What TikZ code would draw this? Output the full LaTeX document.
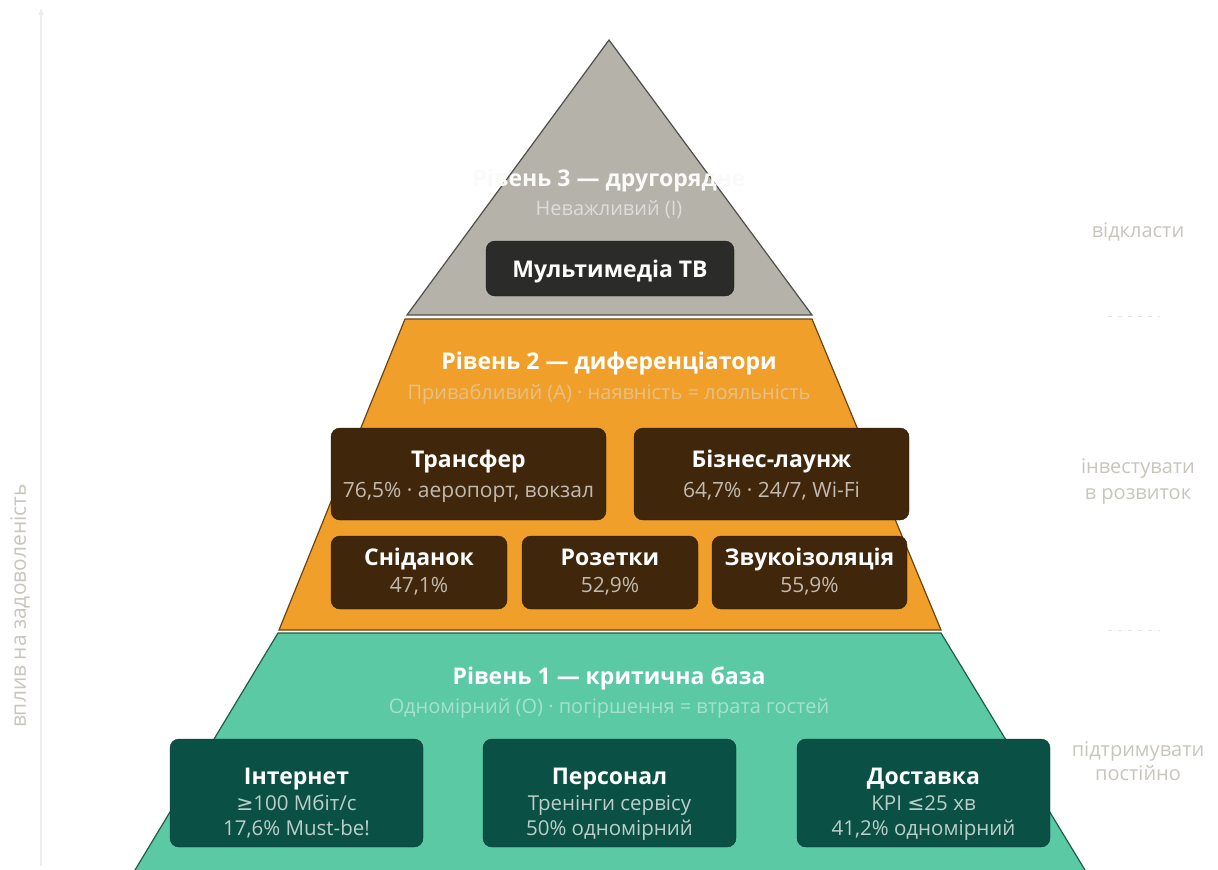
\documentclass[tikz,border=0pt]{standalone}
\usepackage{fontspec}
\setmainfont{Open Sans}
\newfontfamily\symf{DejaVu Sans}
\usetikzlibrary{arrows,positioning}
\definecolor{greyfill}{HTML}{B5B2AA}
\definecolor{greyline}{HTML}{4F4E4A}
\definecolor{orangefill}{HTML}{F0A02A}
\definecolor{orangeline}{HTML}{6B4412}
\definecolor{greenfill}{HTML}{5CC9A5}
\definecolor{greenline}{HTML}{1E5C4B}
\definecolor{brownbox}{HTML}{40260A}
\definecolor{tealbox}{HTML}{0B5044}
\definecolor{darkbox}{HTML}{2B2B2A}
\definecolor{sidegrey}{HTML}{C8C5BD}
\newcommand{\headf}{\fontsize{23}{27}\selectfont\bfseries}
\newcommand{\subf}{\fontsize{20}{24}\selectfont}
\newcommand{\boxf}{\fontsize{23}{27}\selectfont\bfseries}
\newcommand{\smallf}{\fontsize{21}{25}\selectfont}
\newcommand{\basef}{\fontsize{20.5}{24}\selectfont}
\tikzset{
    %Define standard arrow tip
    >=stealth',
    %Define style for feature boxes
    featbox/.style={
           rectangle,
           rounded corners=9pt,
           inner sep=0pt,
           },
    toprect/.style={featbox, fill=darkbox, draw=darkbox!70!black},
    midrect/.style={featbox, fill=brownbox, draw=brownbox!70!black},
    baserect/.style={featbox, fill=tealbox, draw=tealbox!70!black},
    % Define text styles
    heading/.style={font=\headf, text=white, text height=16.5pt, text depth=0pt},
    subhead/.style={font=\subf, text height=14.5pt, text depth=0pt},
    boxtitle/.style={font=\boxf, text=white, text height=16.5pt, text depth=0pt},
    midline/.style={font=\smallf, text=white!68!brownbox, text height=15pt, text depth=0pt},
    baseline/.style={font=\basef, text=white!72!tealbox, text height=14.8pt, text depth=0pt},
    sidenote/.style={font=\subf, text=sidegrey, align=center},
}

\begin{document}
\begin{tikzpicture}[x=1pt,y=-1pt]
\useasboundingbox (0,0) rectangle (1218,870);

 %axis
\coordinate (axbot) at (41,866);
\coordinate (axtop) at (41,9);
\draw[->, black!7, line width=1.2pt] (axbot) -- (axtop);
\node[rotate=90, font=\fontsize{21}{25}\selectfont, text=sidegrey] (axlabel) at (20,606) {вплив на задоволеність};

 %tiers
\fill[greenfill] (135,870) -- (278,633) -- (941,633) -- (1085,870) -- cycle;
\draw[greenline, line width=1.2pt] (135,870) -- (278,633) -- (941,633) -- (1085,870);
\filldraw[fill=orangefill, draw=orangeline, line width=1.2pt]
    (405,319) -- (812,319) -- (941,630) -- (279,630) -- cycle;
\filldraw[fill=greyfill, draw=greyline, line width=1.2pt]
    (609,40) -- (812,315) -- (407,315) -- cycle;

 %tier 3
\node[heading, text=white!93!greyfill] (t3) at (609,178) {Рівень 3 — другорядне};
\node[subhead, text=white!55!greyfill] (t3s) at (609,208) {Неважливий (I)};
\node[toprect, minimum width=248pt, minimum height=55pt] (tv) at (610,268.5) {};
\node[boxtitle] (tvt) at (610,269) {Мультимедіа ТВ};

 %tier 2
\node[heading] (t2) at (609,361) {Рівень 2 — диференціатори};
\node[subhead, text=white!45!orangefill!85!gray] (t2s) at (609,392) {Привабливий (А) · наявність = лояльність};
\node[midrect, minimum width=275pt, minimum height=92pt] (transfer) at (468.5,474) {};
\node[midrect, minimum width=275pt, minimum height=92pt] (lounge) at (771.5,474) {};
\node[midrect, minimum width=176pt, minimum height=73pt] (breakfast) at (419,572.5) {};
\node[midrect, minimum width=176pt, minimum height=73pt] (sockets) at (610,572.5) {};
\node[midrect, minimum width=195pt, minimum height=73pt] (soundproof) at (809.5,572.5) {};
\node[boxtitle] (transfert) at (468.5,459) {Трансфер};
\node[midline] (transfers) at (468.5,490) {76,5\% · аеропорт, вокзал};
\node[boxtitle] (loungt) at (771.5,459) {Бізнес-лаунж};
\node[midline] (lounges) at (771.5,490) {64,7\% · 24/7, Wi-Fi};
\node[boxtitle] (breakfastt) at (419,557) {Сніданок};
\node[midline] (breakfasts) at (419,585) {47,1\%};
\node[boxtitle] (socketst) at (610,557) {Розетки};
\node[midline] (socketss) at (610,585) {52,9\%};
\node[boxtitle] (soundprooft) at (809.5,557) {Звукоізоляція};
\node[midline] (soundproofs) at (809.5,585) {55,9\%};

 %tier 1
\node[heading] (t1) at (609,676) {Рівень 1 — критична база};
\node[subhead, text=white!45!greenfill] (t1s) at (609,706) {Одномірний (О) · погіршення = втрата гостей};
\node[baserect, minimum width=253pt, minimum height=108pt] (internet) at (296.5,793) {};
\node[baserect, minimum width=253pt, minimum height=108pt] (staff) at (609.5,793) {};
\node[baserect, minimum width=253pt, minimum height=108pt] (delivery) at (923.5,793) {};
\node[boxtitle] (internett) at (296.5,776) {Інтернет};
\node[baseline] (internetl) at (296.5,803) {{\symf ≥}100 Мбіт/с};
\node[baseline] (internetm) at (296.5,828) {17,6\% Must-be!};
\node[boxtitle] (stafft) at (609.5,776) {Персонал};
\node[baseline] (staffl) at (609.5,803) {Тренінги сервісу};
\node[baseline] (staffm) at (609.5,828) {50\% одномірний};
\node[boxtitle] (deliveryt) at (923.5,776) {Доставка};
\node[baseline] (deliveryl) at (923.5,803) {KPI {\symf ≤}25 хв};
\node[baseline] (deliverym) at (923.5,828) {41,2\% одномірний};

 %side notes
\node[sidenote] (postpone) at (1138,232) {відкласти};
\node[sidenote] (invest) at (1138,482) {інвестувати\\[2pt]в розвиток};
\node[sidenote] (support) at (1138,761) {підтримувати\\[0pt]постійно};
\draw[black!10, dash pattern=on 4pt off 6pt] (1108,316) -- (1160,316);
\draw[black!10, dash pattern=on 4pt off 6pt] (1108,630) -- (1160,630);

\end{tikzpicture}
\end{document}
